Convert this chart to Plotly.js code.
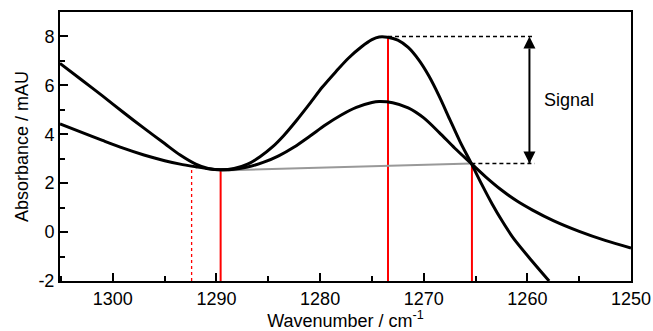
<!DOCTYPE html>
<html>
<head>
<meta charset="utf-8">
<script src="https://cdn.plot.ly/plotly-3.0.1.min.js"></script>
<style>html,body{margin:0;padding:0;background:#fff;}#chart{width:653px;height:331px;}</style>
</head>
<body>
<div id="chart"></div>
<script>
// Curve 1 (larger peak)
var xA = [1305.1, 1303, 1301, 1299, 1297, 1295, 1293.5, 1292, 1290.8, 1289.6, 1288.3, 1287, 1285.8, 1284.6, 1283.5, 1282.3, 1281, 1279.8, 1278.5, 1277.3, 1276, 1275, 1274.3, 1273.5, 1272.5, 1271.5, 1270.5, 1269.5, 1268.5, 1267.5, 1266.5, 1265.4, 1264.4, 1263.4, 1262.4, 1261.3, 1259.6, 1257.9];
var yA = [6.90, 6.22, 5.57, 4.90, 4.25, 3.62, 3.15, 2.78, 2.60, 2.55, 2.60, 2.78, 3.08, 3.48, 3.95, 4.55, 5.25, 5.92, 6.55, 7.10, 7.58, 7.87, 7.98, 7.97, 7.85, 7.55, 7.05, 6.38, 5.55, 4.62, 3.70, 2.80, 1.95, 1.15, 0.43, -0.28, -1.16, -2.00];
// Curve 2 (smaller peak)
var xB = [1305.1, 1303, 1301, 1299, 1297, 1295, 1293.5, 1292, 1290.8, 1289.6, 1288.3, 1287, 1285.5, 1284, 1282.5, 1281, 1279.5, 1278, 1276.5, 1275, 1274.3, 1273, 1271.5, 1270, 1268.5, 1267, 1265.4, 1264, 1262.5, 1261, 1259.5, 1257.5, 1255, 1252.5, 1250];
var yB = [4.42, 4.08, 3.75, 3.43, 3.15, 2.92, 2.78, 2.67, 2.59, 2.55, 2.57, 2.66, 2.85, 3.12, 3.48, 3.92, 4.38, 4.78, 5.10, 5.30, 5.34, 5.29, 5.08, 4.67, 4.07, 3.43, 2.80, 2.25, 1.72, 1.27, 0.90, 0.47, 0.03, -0.34, -0.65];
// Baseline (grey)
var baseX = [1289.6, 1265.4];
var baseY = [2.52, 2.80];
// Red markers
var redX = [1289.6, 1273.45, 1265.35];
var redTop = [2.52, 7.97, 2.80];
var redDashX = 1292.4, redDashTop = 2.70;
var yBottom = -2;
// Signal guides
var signalTop = 8.0, signalBottom = 2.8;
var guideTopX = [1273.45, 1259.3];
var guideBotX = [1265.4, 1259.3];
var arrowX = 1259.8;
var signalLabel = {x: 1256.0, y: 5.4, text: 'Signal'};
// Tick labels
var xTicks = [1300, 1290, 1280, 1270, 1260, 1250];
var yTicks = [-2, 0, 2, 4, 6, 8];
var yTickText = ['-2', '0', '2', '4', '6', '8'];

var traces = [];
// red verticals
redX.forEach(function (x, i) {
  traces.push({x: [x, x], y: [yBottom, redTop[i]], mode: 'lines', line: {color: '#ff0000', width: 2}, hoverinfo: 'skip'});
});
traces.push({x: [redDashX, redDashX], y: [yBottom, redDashTop], mode: 'lines', line: {color: '#ff0000', width: 1.3, dash: '3px,3px'}, hoverinfo: 'skip'});
// baseline
traces.push({x: baseX, y: baseY, mode: 'lines', line: {color: '#999999', width: 2}});
// dashed guides
traces.push({x: guideTopX, y: [signalTop, signalTop], mode: 'lines', line: {color: '#000', width: 1.5, dash: '4px,3px'}});
traces.push({x: guideBotX, y: [signalBottom, signalBottom], mode: 'lines', line: {color: '#000', width: 1.5, dash: '4px,3px'}});
// double arrow
traces.push({x: [arrowX, arrowX], y: [signalBottom, signalTop], mode: 'lines+markers',
  line: {color: '#000', width: 2},
  marker: {symbol: ['arrow-down', 'arrow-up'], size: 12, color: '#000', line: {width: 0}}});
// curves
traces.push({x: xA, y: yA, mode: 'lines', line: {color: '#000', width: 3, shape: 'spline', smoothing: 0.8}});
traces.push({x: xB, y: yB, mode: 'lines', line: {color: '#000', width: 3, shape: 'spline', smoothing: 0.8}});

var font = {family: '"Liberation Sans", Arial, sans-serif', size: 18, color: '#000'};
var layout = {
  width: 653, height: 331,
  margin: {l: 60, r: 22, t: 12, b: 50},
  showlegend: false,
  paper_bgcolor: '#fff', plot_bgcolor: '#fff',
  font: font,
  xaxis: {
    range: [1305.1, 1250], tickmode: 'array', tickvals: xTicks,
    ticks: 'inside', ticklen: 8, tickwidth: 2, tickcolor: '#000',
    minor: {dtick: 5, tick0: 1250, ticks: 'inside', ticklen: 5, tickwidth: 2, tickcolor: '#000', showgrid: false},
    showline: true, linewidth: 2, linecolor: '#000', mirror: true,
    showgrid: false, zeroline: false,
    tickfont: font,
    title: {text: 'Wavenumber / cm<sup>-1</sup>', font: font, standoff: 6}
  },
  yaxis: {
    range: [-2, 9], tickmode: 'array', tickvals: yTicks, ticktext: yTickText,
    ticks: 'inside', ticklen: 8, tickwidth: 2, tickcolor: '#000',
    minor: {dtick: 1, tick0: 0, ticks: 'inside', ticklen: 5, tickwidth: 2, tickcolor: '#000', showgrid: false},
    showline: true, linewidth: 2, linecolor: '#000', mirror: true,
    showgrid: false, zeroline: false,
    tickfont: font,
    title: {text: 'Absorbance / mAU', font: font, standoff: 5}
  },
  annotations: [
    {x: signalLabel.x, y: signalLabel.y, xref: 'x', yref: 'y', text: signalLabel.text, showarrow: false, font: font}
  ]
};
Plotly.newPlot('chart', traces, layout, {staticPlot: true, displayModeBar: false});
</script>
</body>
</html>
